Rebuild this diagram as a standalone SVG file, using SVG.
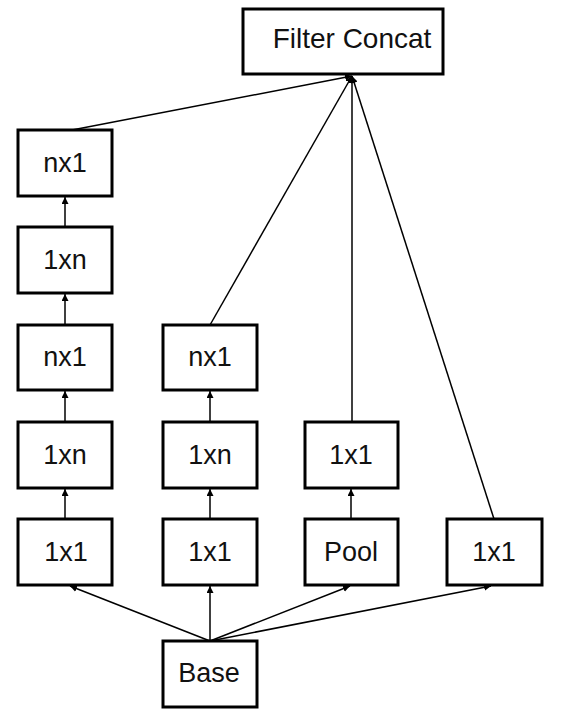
<svg xmlns="http://www.w3.org/2000/svg" width="566" height="717" viewBox="0 0 566 717">
<defs>
<style>
.box{fill:#fff;stroke:#000;stroke-width:3}
.lbl{font-family:"Liberation Sans",Arial,sans-serif;font-size:27px;fill:#111;text-anchor:middle}
.big{font-size:28px}
.ln{stroke:#000;stroke-width:1.5;fill:none;marker-end:url(#ah)}
</style>
<marker id="ah" viewBox="0 0 10 10" refX="10" refY="5" markerWidth="7" markerHeight="7" markerUnits="userSpaceOnUse" orient="auto">
<path d="M0,0 L10,5 L0,10 z" fill="#000"/>
</marker>
</defs>
<rect width="566" height="717" fill="#fff"/>
<g id="connectors">
<line class="ln" x1="72" y1="130" x2="352" y2="76"/>
<line class="ln" x1="210" y1="325" x2="352" y2="76"/>
<line class="ln" x1="352" y1="422" x2="352" y2="76"/>
<line class="ln" x1="494" y1="519" x2="352" y2="76"/>
<line class="ln" x1="65" y1="227" x2="65" y2="197"/>
<line class="ln" x1="65" y1="325" x2="65" y2="294"/>
<line class="ln" x1="65" y1="422" x2="65" y2="391"/>
<line class="ln" x1="65" y1="519" x2="65" y2="489"/>
<line class="ln" x1="210" y1="422" x2="210" y2="391"/>
<line class="ln" x1="210" y1="519" x2="210" y2="489"/>
<line class="ln" x1="351" y1="519" x2="351" y2="489"/>
<line class="ln" x1="210" y1="641" x2="70" y2="586"/>
<line class="ln" x1="210" y1="641" x2="210" y2="586"/>
<line class="ln" x1="210" y1="641" x2="350" y2="586"/>
<line class="ln" x1="210" y1="641" x2="491" y2="586"/>
</g>
<g id="filter-concat"><rect class="box" x="243" y="9" width="200" height="65"/><text class="lbl big" x="352" y="48">Filter Concat</text></g>
<g id="c1-nx1-top"><rect class="box" x="18" y="130" width="94" height="66"/><text class="lbl" x="65" y="172">nx1</text></g>
<g id="c1-1xn-top"><rect class="box" x="18" y="227" width="94" height="66"/><text class="lbl" x="65" y="269">1xn</text></g>
<g id="c1-nx1"><rect class="box" x="18" y="325" width="94" height="65"/><text class="lbl" x="65" y="366">nx1</text></g>
<g id="c1-1xn"><rect class="box" x="18" y="422" width="94" height="66"/><text class="lbl" x="65" y="464">1xn</text></g>
<g id="c1-1x1"><rect class="box" x="18" y="519" width="94" height="66"/><text class="lbl" x="66" y="561">1x1</text></g>
<g id="c2-nx1"><rect class="box" x="163" y="325" width="94" height="65"/><text class="lbl" x="210" y="366">nx1</text></g>
<g id="c2-1xn"><rect class="box" x="163" y="422" width="94" height="66"/><text class="lbl" x="210" y="464">1xn</text></g>
<g id="c2-1x1"><rect class="box" x="163" y="519" width="94" height="66"/><text class="lbl" x="210" y="561">1x1</text></g>
<g id="c3-1x1"><rect class="box" x="305" y="422" width="93" height="66"/><text class="lbl" x="351" y="464">1x1</text></g>
<g id="c3-pool"><rect class="box" x="305" y="519" width="93" height="66"/><text class="lbl" x="351" y="561">Pool</text></g>
<g id="c4-1x1"><rect class="box" x="447" y="519" width="95" height="66"/><text class="lbl" x="494" y="561">1x1</text></g>
<g id="base"><rect class="box" x="163" y="641" width="94" height="66"/><text class="lbl" x="209" y="682">Base</text></g>
</svg>
